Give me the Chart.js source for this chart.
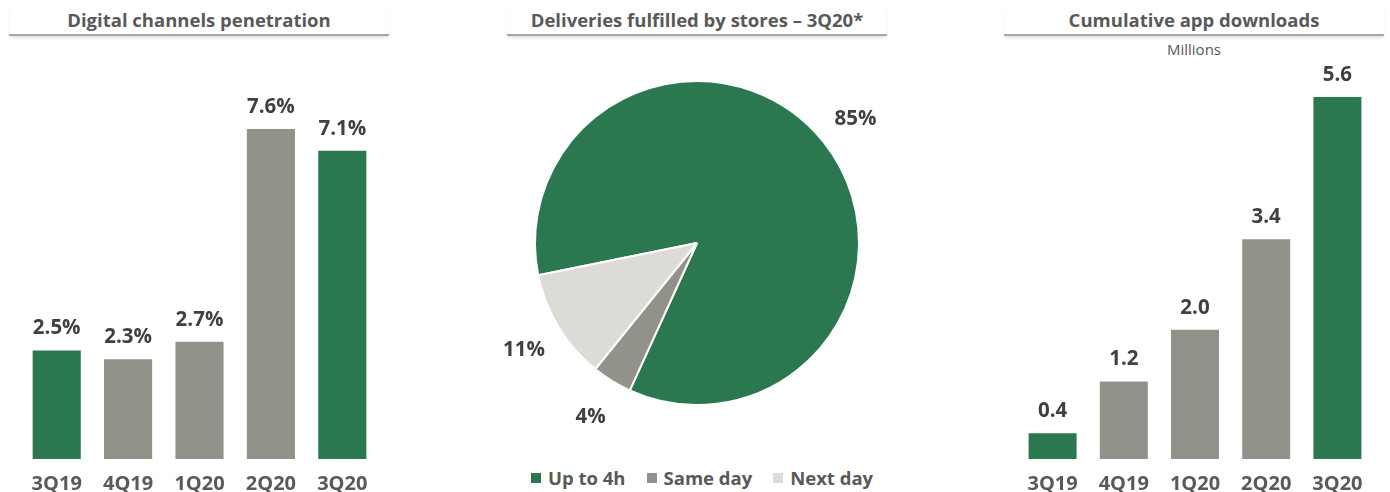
<!DOCTYPE html>
<html>
<head>
<meta charset="utf-8">
<script src="https://cdn.jsdelivr.net/npm/chart.js@4/dist/chart.umd.min.js"></script>
<style>
  body { margin: 0; background: #fff; font-family: "Open Sans", sans-serif; }
  #page { position: relative; width: 1390px; height: 492px; overflow: hidden; }
  .panel-title {
    position: absolute; top: 6px; width: 380px; height: 28px;
    line-height: 28px; text-align: center;
    font-weight: bold; font-size: 18.5px; color: #595959;
    border-bottom: 2px solid #a6a6a6;
    box-shadow: 0 3px 3px -1px rgba(0, 0, 0, 0.12);
  }
  .unit-note {
    position: absolute; top: 39px; left: 1004px; width: 380px;
    text-align: center; font-size: 15px; color: #595959;
  }
  canvas { position: absolute; }
  #pie-legend {
    position: absolute; left: 531px; top: 465px; display: flex;
    font-weight: bold; font-size: 18.5px; color: #595959;
  }
  #pie-legend span.item { display: flex; align-items: center; margin-right: 21px; }
  #pie-legend span.box { width: 10px; height: 10px; margin-right: 7px; display: inline-block; }
</style>
</head>
<body>
<div id="page">
  <div class="panel-title" style="left:9px">Digital channels penetration</div>
  <div class="panel-title" style="left:507px">Deliveries fulfilled by stores – 3Q20*</div>
  <div class="panel-title" style="left:1004px">Cumulative app downloads</div>
  <div class="unit-note">Millions</div>

  <div style="position:absolute;left:0;top:40px;width:400px;height:469px">
    <canvas id="penetrationChart" width="400" height="469"></canvas>
  </div>
  <div style="position:absolute;left:477px;top:63px;width:440px;height:360px">
    <canvas id="deliveriesChart" width="440" height="360"></canvas>
  </div>
  <div style="position:absolute;left:990px;top:40px;width:400px;height:469px">
    <canvas id="downloadsChart" width="400" height="469"></canvas>
  </div>
  <div id="pie-legend"></div>
</div>

<script>
// Data
var quarters = ['3Q19', '4Q19', '1Q20', '2Q20', '3Q20'];
var penetration = [2.5, 2.3, 2.7, 7.6, 7.1];
var downloads = [0.4, 1.2, 2.0, 3.4, 5.6];
var deliveryTypes = ['Up to 4h', 'Same day', 'Next day'];
var deliveryShares = [85, 4, 11];

(function () {
  'use strict';

  var colors = {
    green: '#2b7750',
    gray: '#92918a',
    light: '#dddbd5',
    label: '#404040',
    tick: '#595959'
  };
  var barColors = [colors.green, colors.gray, colors.gray, colors.gray, colors.green];

  Chart.defaults.font.family = '"Open Sans", sans-serif';
  Chart.defaults.animation = false;

  // Value above each bar
  var barValueLabels = {
    id: 'barValueLabels',
    afterDatasetsDraw: function (chart, args, opts) {
      var ctx = chart.ctx;
      var meta = chart.getDatasetMeta(0);
      var values = chart.data.datasets[0].data;
      ctx.save();
      ctx.font = 'bold 20.5px "Open Sans"';
      ctx.fillStyle = colors.label;
      ctx.textAlign = 'center';
      ctx.textBaseline = 'middle';
      meta.data.forEach(function (bar, i) {
        ctx.fillText(values[i].toFixed(1) + (opts.suffix || ''), bar.x, bar.y - 22);
      });
      ctx.restore();
    }
  };

  // Percent labels outside the pie slices
  var pieOutsideLabels = {
    id: 'pieOutsideLabels',
    afterDatasetsDraw: function (chart) {
      var ctx = chart.ctx;
      var meta = chart.getDatasetMeta(0);
      var values = chart.data.datasets[0].data;
      ctx.save();
      ctx.font = 'bold 20.5px "Open Sans"';
      ctx.fillStyle = colors.label;
      ctx.textAlign = 'center';
      ctx.textBaseline = 'middle';
      meta.data.forEach(function (arc, i) {
        var mid = (arc.startAngle + arc.endAngle) / 2;
        var r = arc.outerRadius * 1.25;
        ctx.fillText(values[i] + '%', arc.x + Math.cos(mid) * r, arc.y + Math.sin(mid) * r + 2);
      });
      ctx.restore();
    }
  };

  function createBarChart(canvasId, values, yMax, suffix, padLeft, padRight) {
    return new Chart(document.getElementById(canvasId), {
      type: 'bar',
      data: {
        labels: quarters,
        datasets: [{
          data: values,
          backgroundColor: barColors,
          barPercentage: 0.674,
          categoryPercentage: 1
        }]
      },
      options: {
        responsive: false,
        layout: { padding: { left: padLeft, right: padRight, top: 0, bottom: 0 } },
        plugins: {
          legend: { display: false },
          tooltip: { enabled: false },
          barValueLabels: { suffix: suffix }
        },
        scales: {
          x: {
            grid: { display: false, drawTicks: false },
            border: { display: false },
            ticks: {
              padding: 13,
              color: colors.tick,
              font: { size: 20, weight: 'bold' }
            }
          },
          y: { display: false, min: 0, max: yMax }
        }
      },
      plugins: [barValueLabels]
    });
  }

  createBarChart('penetrationChart', penetration, 9.65, '%', 21, 22);
  createBarChart('downloadsChart', downloads, 6.48, '', 27, 17);

  new Chart(document.getElementById('deliveriesChart'), {
    type: 'pie',
    data: {
      labels: deliveryTypes,
      datasets: [{
        data: deliveryShares,
        backgroundColor: [colors.green, colors.gray, colors.light],
        borderColor: '#ffffff',
        borderWidth: 2
      }]
    },
    options: {
      responsive: false,
      rotation: 258.5,
      layout: { padding: { left: 57, right: 57, top: 17, bottom: 17 } },
      plugins: {
        legend: { display: false },
        tooltip: { enabled: false }
      }
    },
    plugins: [pieOutsideLabels]
  });

  // Legend for the pie, built from the same arrays
  var legend = document.getElementById('pie-legend');
  var legendColors = [colors.green, colors.gray, colors.light];
  deliveryTypes.forEach(function (name, i) {
    var item = document.createElement('span');
    item.className = 'item';
    var box = document.createElement('span');
    box.className = 'box';
    box.style.background = legendColors[i];
    item.appendChild(box);
    item.appendChild(document.createTextNode(name));
    legend.appendChild(item);
  });
})();
</script>
</body>
</html>
